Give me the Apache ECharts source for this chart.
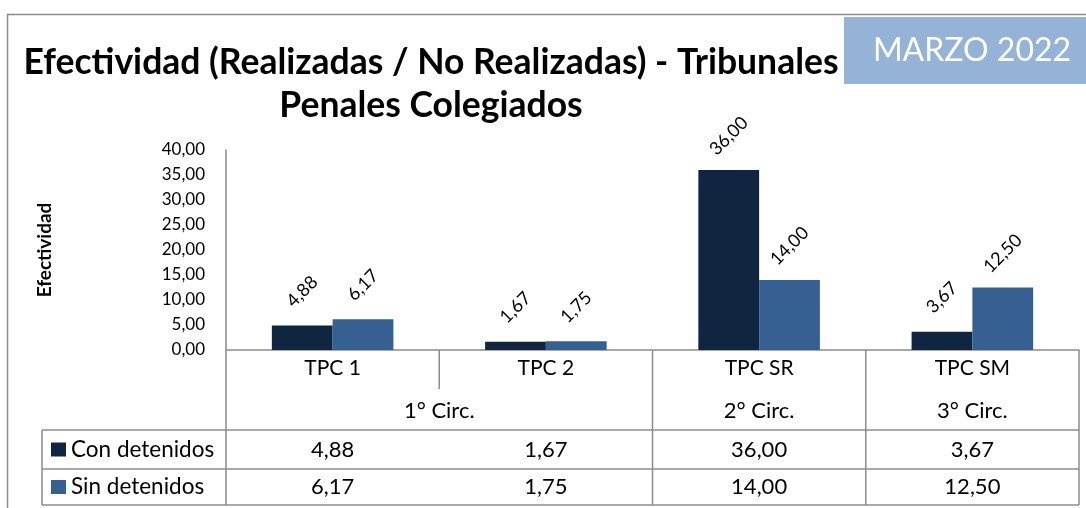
<!DOCTYPE html>
<html>
<head>
<meta charset="utf-8">
<script src="https://cdn.jsdelivr.net/npm/echarts@6/dist/echarts.min.js"></script>
<style>
html,body{margin:0;padding:0;background:#fff;}
#c{width:1086px;height:508px;}
</style>
</head>
<body>
<div id="c"></div>
<script>
const categories = ['TPC 1', 'TPC 2', 'TPC SR', 'TPC SM'];
const conDetenidos = [4.88, 1.67, 36.00, 3.67];
const sinDetenidos = [6.17, 1.75, 14.00, 12.50];
const seriesNames = ['Con detenidos', 'Sin detenidos'];
const circLabels = ['1° Circ.', '2° Circ.', '3° Circ.'];
const circSpan = [2, 1, 1];
const titleText = 'Efectividad (Realizadas / No Realizadas) - Tribunales\nPenales Colegiados';
const badgeText = 'MARZO 2022';
const yAxisName = 'Efectividad';

const FONT = 'Lato';
const DARK = '#10253F';
const LIGHT = '#376092';
const GRID_LINE = '#8c8c8c';
const fmt = v => v.toFixed(2).replace('.', ',');

const chart = echarts.init(document.getElementById('c'), null, {renderer: 'canvas'});

const labelCfg = {
  show: true, position: 'top', rotate: 45, distance: 34,
  align: 'center', verticalAlign: 'middle',
  fontFamily: FONT, fontSize: 18, color: '#000',
  formatter: p => fmt(p.value)
};

chart.setOption({
  backgroundColor: '#fff',
  animation: false,
  title: {
    text: titleText,
    left: 426, top: 36, textAlign: 'center',
    textStyle: {fontFamily: FONT, fontWeight: 'bold', fontSize: 35.5, color: '#000', lineHeight: 43}
  },
  grid: {left: 226, right: 7, top: 150, bottom: 158, containLabel: false},
  xAxis: {
    type: 'category', data: categories,
    axisLine: {show: true, lineStyle: {color: GRID_LINE, width: 1.5}},
    axisTick: {show: false},
    axisLabel: {fontFamily: FONT, fontSize: 21, color: '#000', margin: 8}
  },
  yAxis: {
    type: 'value', min: 0, max: 40, interval: 5,
    name: yAxisName, nameLocation: 'middle', nameRotate: 90, nameGap: 172,
    nameTextStyle: {fontFamily: FONT, fontWeight: 'bold', fontSize: 19, color: '#000'},
    axisLine: {show: true, lineStyle: {color: GRID_LINE, width: 1.5}},
    axisTick: {show: false},
    splitLine: {show: false},
    axisLabel: {fontFamily: FONT, fontSize: 17, color: '#000', margin: 21, formatter: v => fmt(v)}
  },
  series: [
    {name: seriesNames[0], type: 'bar', data: conDetenidos, barGap: '0%', barCategoryGap: '43%',
     itemStyle: {color: DARK}, label: labelCfg},
    {name: seriesNames[1], type: 'bar', data: sinDetenidos, barGap: '0%', barCategoryGap: '43%',
     itemStyle: {color: LIGHT}, label: labelCfg}
  ]
});

// Table and decorations positioned from the chart's own scales
const c0 = chart.convertToPixel({xAxisIndex: 0}, categories[0]);
const c1 = chart.convertToPixel({xAxisIndex: 0}, categories[1]);
const band = c1 - c0;
const y0 = chart.convertToPixel({yAxisIndex: 0}, 0);
const xLeft = c0 - band / 2;
const bound = i => xLeft + band * i;
const centerOf = i => c0 + band * i;
const legendLeft = 42;
const rowTop1 = y0 + 80, rowTop2 = y0 + 119, rowBottom = y0 + 155;
const lineStyle = {stroke: GRID_LINE, lineWidth: 1.5};

const g = [];
// outer border
g.push({type: 'polyline', shape: {points: [[7.5, 508], [7.5, 14.5], [1086, 14.5]]}, style: {stroke: '#8c8c8c', lineWidth: 1.5, fill: null}, z: 1});
// badge
g.push({type: 'rect', shape: {x: 844, y: 17, width: 242, height: 67}, style: {fill: '#95B3D7'}, z: 2});
g.push({type: 'text', x: 972, y: 51, style: {text: badgeText, fill: '#fff', font: '32px ' + FONT, textAlign: 'center', textVerticalAlign: 'middle'}, z: 3});

// vertical table lines
let idx = 0;
const spanEnds = new Set();
circSpan.forEach(s => { idx += s; spanEnds.add(idx); });
for (let i = 0; i <= categories.length; i++) {
  const x = bound(i);
  const full = i === 0 || spanEnds.has(i);
  g.push({type: 'line', shape: {x1: x, y1: y0, x2: x, y2: full ? rowBottom : y0 + 39}, style: lineStyle});
}
g.push({type: 'line', shape: {x1: legendLeft, y1: rowTop1, x2: legendLeft, y2: rowBottom}, style: lineStyle});
[rowTop1, rowTop2, rowBottom].forEach(y => {
  g.push({type: 'line', shape: {x1: legendLeft, y1: y, x2: bound(categories.length), y2: y}, style: lineStyle});
});

// circ labels
let start = 0;
circLabels.forEach((lab, k) => {
  const cx = (bound(start) + bound(start + circSpan[k])) / 2;
  g.push({type: 'text', x: cx, y: y0 + 61, style: {text: lab, fill: '#000', font: '22px ' + FONT, textAlign: 'center', textVerticalAlign: 'middle'}});
  start += circSpan[k];
});

// data rows
const rows = [conDetenidos, sinDetenidos];
const colors = [DARK, LIGHT];
rows.forEach((vals, r) => {
  const top = r === 0 ? rowTop1 : rowTop2;
  const bottom = r === 0 ? rowTop2 : rowBottom;
  const cy = (top + bottom) / 2;
  g.push({type: 'rect', shape: {x: legendLeft + 9, y: cy - 7, width: 15, height: 14}, style: {fill: colors[r]}});
  g.push({type: 'text', x: legendLeft + 29, y: cy, style: {text: seriesNames[r], fill: '#000', font: '22.5px ' + FONT, textAlign: 'left', textVerticalAlign: 'middle'}});
  vals.forEach((v, i) => {
    g.push({type: 'text', x: centerOf(i), y: cy, style: {text: fmt(v), fill: '#000', font: '22px ' + FONT, textAlign: 'center', textVerticalAlign: 'middle'}});
  });
});

chart.setOption({graphic: {elements: g}});
</script>
</body>
</html>
